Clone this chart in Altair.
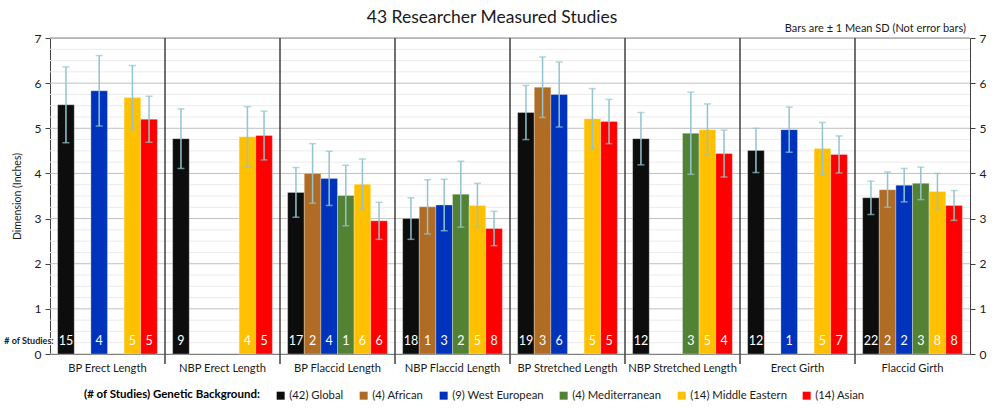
import altair as alt
import pandas as pd

categories = ["BP Erect Length", "NBP Erect Length", "BP Flaccid Length", "NBP Flaccid Length",
              "BP Stretched Length", "NBP Stretched Length", "Erect Girth", "Flaccid Girth"]
groups = ["(42) Global", "(4) African", "(9) West European", "(4) Mediterranean",
          "(14) Middle Eastern", "(14) Asian"]
colors = ["#0d0d0d", "#b06b24", "#0033bb", "#548235", "#ffc000", "#ff0000"]

global_mean = [5.52, 4.77, 3.58, 3.00, 5.35, 4.77, 4.51, 3.46]
african_mean = [None, None, 4.00, 3.26, 5.91, None, None, 3.64]
westeu_mean = [5.83, None, 3.89, 3.30, 5.75, None, 4.97, 3.74]
medit_mean = [None, None, 3.51, 3.54, None, 4.89, None, 3.78]
mideast_mean = [5.68, 4.81, 3.76, 3.29, 5.21, 4.97, 4.55, 3.60]
asian_mean = [5.20, 4.84, 2.95, 2.78, 5.15, 4.44, 4.42, 3.29]

global_sd = [0.84, 0.66, 0.55, 0.46, 0.60, 0.58, 0.49, 0.37]
african_sd = [None, None, 0.66, 0.60, 0.67, None, None, 0.39]
westeu_sd = [0.78, None, 0.60, 0.57, 0.72, None, 0.50, 0.37]
medit_sd = [None, None, 0.67, 0.73, None, 0.91, None, 0.36]
mideast_sd = [0.71, 0.67, 0.56, 0.49, 0.67, 0.57, 0.58, 0.40]
asian_sd = [0.51, 0.54, 0.41, 0.38, 0.49, 0.52, 0.41, 0.33]

global_n = [15, 9, 17, 18, 19, 12, 12, 22]
african_n = [None, None, 2, 1, 3, None, None, 2]
westeu_n = [4, None, 4, 3, 6, None, 1, 2]
medit_n = [None, None, 1, 2, None, 3, None, 3]
mideast_n = [5, 4, 6, 5, 5, 5, 5, 8]
asian_n = [5, 5, 6, 8, 5, 4, 7, 8]

y_ticks = [0, 1, 2, 3, 4, 5, 6, 7]
minor_grid = [i * 0.25 for i in range(29)]

series = [
    (groups[0], global_mean, global_sd, global_n),
    (groups[1], african_mean, african_sd, african_n),
    (groups[2], westeu_mean, westeu_sd, westeu_n),
    (groups[3], medit_mean, medit_sd, medit_n),
    (groups[4], mideast_mean, mideast_sd, mideast_n),
    (groups[5], asian_mean, asian_sd, asian_n),
]
rows = []
for g, m, s, n in series:
    for c, mv, sv, nv in zip(categories, m, s, n):
        if mv is None:
            continue
        rows.append({"category": c, "group": g, "mean": mv, "lo": mv - sv, "hi": mv + sv,
                     "n": str(nv)})
df = pd.DataFrame(rows)

FONT = "Lato"
W, H = 920, 316

yscale = alt.Scale(domain=[0, 7], nice=False, zero=True)
xscale = alt.Scale(domain=categories, paddingInner=0, paddingOuter=0)
xoff = alt.XOffset("group:N", sort=groups,
                   scale=alt.Scale(domain=groups, paddingInner=0, paddingOuter=0.46))

grid_df = pd.DataFrame({"v": minor_grid})
grid_df["major"] = grid_df["v"] % 1 == 0
grid = alt.Chart(grid_df).mark_rule(strokeWidth=1).encode(
    y=alt.Y("v:Q", scale=yscale, axis=None),
    color=alt.condition("datum.major", alt.value("#c0c0c0"), alt.value("#ebebeb")),
)

bars = alt.Chart(df).mark_bar(stroke="#ffffff", strokeWidth=0.6, strokeOpacity=0.5).encode(
    x=alt.X("category:N", sort=categories, scale=xscale, title=None,
            axis=alt.Axis(labelAngle=0, ticks=False, domainColor="#404040",
                          labelFontSize=11.2, labelColor="#1a1a1a", labelFont=FONT,
                          labelPadding=8)),
    xOffset=xoff,
    y=alt.Y("mean:Q", scale=yscale, title="Dimension (Inches)",
            axis=alt.Axis(values=y_ticks, grid=False, orient="left", domainColor="#404040",
                          tickColor="#404040", tickSize=5, labelFontSize=12,
                          labelColor="#1a1a1a", labelFont=FONT, titleFont=FONT,
                          titleFontSize=10.5, titleFontWeight="normal", titleColor="#1a1a1a",
                          titlePadding=12, labelPadding=4)),
    color=alt.Color("group:N", sort=groups, scale=alt.Scale(domain=groups, range=colors),
                    legend=alt.Legend(orient="none", legendX=34, legendY=352,
                                      direction="horizontal", titleOrient="left",
                                      title="(# of Studies) Genetic Background:",
                                      symbolType="square", symbolSize=64,
                                      symbolStrokeWidth=0, labelFontSize=11.3,
                                      labelFont=FONT, titleFont=FONT, titleFontSize=11.5,
                                      titleFontWeight="bold", titleColor="#000000",
                                      labelColor="#1a1a1a", columnPadding=14,
                                      titlePadding=14, labelOffset=3, labelLimit=200,
                                      titleLimit=300)),
)

err_color = "#93c4cd"
err_rule = alt.Chart(df).mark_rule(color=err_color, strokeWidth=1.5).encode(
    x=alt.X("category:N", sort=categories, scale=xscale),
    xOffset=xoff,
    y=alt.Y("lo:Q", scale=yscale,
            axis=alt.Axis(values=y_ticks, grid=False, orient="right", domainColor="#404040",
                          tickColor="#404040", tickSize=5, labelFontSize=12,
                          labelColor="#1a1a1a", labelFont=FONT, title=None, labelPadding=4)),
    y2="hi:Q",
)
cap_lo = alt.Chart(df).mark_tick(color=err_color, thickness=1.5, size=7).encode(
    x=alt.X("category:N", sort=categories, scale=xscale),
    xOffset=xoff,
    y=alt.Y("lo:Q", scale=yscale, axis=None),
)
cap_hi = alt.Chart(df).mark_tick(color=err_color, thickness=1.5, size=7).encode(
    x=alt.X("category:N", sort=categories, scale=xscale),
    xOffset=xoff,
    y=alt.Y("hi:Q", scale=yscale, axis=None),
)

counts = alt.Chart(df).mark_text(color="white", fontSize=12.5, font=FONT,
                                 baseline="middle").encode(
    x=alt.X("category:N", sort=categories, scale=xscale),
    xOffset=xoff,
    y=alt.value(303),
    text="n:N",
)

sep_df = pd.DataFrame({"category": categories[1:]})
separators = alt.Chart(sep_df).mark_rule(color="#404040", strokeWidth=1.5).encode(
    x=alt.X("category:N", sort=categories, scale=xscale, bandPosition=0),
    y=alt.value(0),
    y2=alt.value(H + 10),
)

top_line = alt.Chart(pd.DataFrame({"a": [0]})).mark_rule(color="#a0a0a0", strokeWidth=1).encode(
    x=alt.value(0), x2=alt.value(W), y=alt.value(0))

one = pd.DataFrame({"a": [0]})
studies_halo = alt.Chart(one).mark_text(text="# of Studies:", fontSize=9, fontWeight="bold",
                                        font=FONT, color="white", stroke="white",
                                        strokeWidth=2.5, align="center",
                                        baseline="middle").encode(
    x=alt.value(-21), y=alt.value(303))
studies = alt.Chart(one).mark_text(text="# of Studies:", fontSize=9, fontWeight="bold",
                                   font=FONT, color="#1a1a1a", align="center",
                                   baseline="middle").encode(
    x=alt.value(-21), y=alt.value(303))

title = alt.Chart(one).mark_text(text="43 Researcher Measured Studies", fontSize=17.5,
                                 font=FONT, color="#1a1a1a", align="center",
                                 baseline="middle").encode(
    x=alt.value(442), y=alt.value(-20))
subtitle = alt.Chart(one).mark_text(text="Bars are \u00b1 1 Mean SD (Not error bars)",
                                    fontSize=11, font=FONT, color="#1a1a1a", align="right",
                                    baseline="middle").encode(
    x=alt.value(916), y=alt.value(-9))

chart = alt.layer(
    grid, top_line, bars, err_rule, cap_lo, cap_hi, counts, separators,
    studies_halo, studies, title, subtitle,
).resolve_scale(y="independent").properties(
    width=W, height=H,
    autosize=alt.AutoSizeParams(type="none"),
    padding={"left": 50, "top": 38, "right": 30, "bottom": 58},
).configure_view(stroke=None).configure(background="white")

chart.save("out.html", embed_options={"renderer": "svg", "actions": False})
